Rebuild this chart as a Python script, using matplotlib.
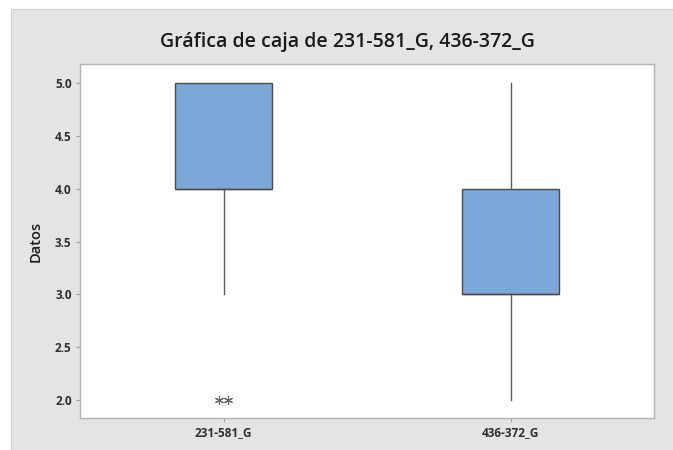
import matplotlib
matplotlib.use("Agg")
import matplotlib.pyplot as plt
from matplotlib.patches import Rectangle

# Summary statistics for each variable
categories = ["231-581_G", "436-372_G"]
q1 = [4.0, 3.0]
medians = [4.0, 3.0]
q3 = [5.0, 4.0]
whisker_low = [3.0, 2.0]
whisker_high = [5.0, 5.0]
outliers = [[2.0, 2.0], []]
y_ticks = [2.0, 2.5, 3.0, 3.5, 4.0, 4.5, 5.0]

plt.rcParams["font.family"] = ["Open Sans", "DejaVu Sans"]

fig = plt.figure(figsize=(6.73, 4.5), dpi=100)
fig.patch.set_facecolor("white")
# grey frame behind the chart
fig.patches.append(Rectangle((11 / 673, -0.01), 1.01 - 11 / 673, 0.01 + 441 / 450,
                             transform=fig.transFigure, facecolor="#E4E4E4",
                             edgecolor="#D0D0D0", linewidth=0.8, zorder=-10))

ax = fig.add_axes([80 / 673, 32 / 450, 574 / 673, 354 / 450])
ax.set_facecolor("white")

stats = []
for i, name in enumerate(categories):
    stats.append(dict(label=name, q1=q1[i], med=medians[i], q3=q3[i],
                      whislo=whisker_low[i], whishi=whisker_high[i], fliers=[]))

positions = list(range(1, len(categories) + 1))
ax.bxp(stats, positions=positions, widths=0.335, patch_artist=True,
       showcaps=False,
       boxprops=dict(facecolor="#7BA7D9", edgecolor="#4A4A4A", linewidth=1.0),
       medianprops=dict(color="#4A4A4A", linewidth=1.0),
       whiskerprops=dict(color="#5A5A5A", linewidth=1.0))

# outliers drawn as asterisks, tied values spread side by side
for pos, vals in zip(positions, outliers):
    n = len(vals)
    for k, v in enumerate(vals):
        dx = (k - (n - 1) / 2) * 0.034
        ax.plot(pos + dx, v, marker=(6, 2, 0), markersize=6.5,
                color="#606060", markeredgewidth=0.8, linestyle="none")

ax.set_xlim(0.5, 2.5)
ax.set_ylim(1.830, 5.18)
ax.set_yticks(y_ticks)
ax.set_yticklabels([f"{t:.1f}" for t in y_ticks])
ax.set_xticks(positions)
ax.set_xticklabels(categories)

for s in ax.spines.values():
    s.set_color("#B4B4B4")
    s.set_linewidth(1.0)
ax.tick_params(axis="both", colors="#A0A0A0", length=3, width=0.8,
               labelcolor="#2E2E2E", labelsize=8.5, pad=3)
for lbl in ax.get_yticklabels() + ax.get_xticklabels():
    lbl.set_fontweight("bold")

ax.set_ylabel("Datos", fontsize=10.5, fontweight="semibold", color="#1A1A1A",
              labelpad=9)

fig.text(347 / 673, 1 - 42 / 450, "Gráfica de caja de 231-581_G, 436-372_G",
         ha="center", va="center", fontsize=14, fontweight="semibold",
         color="#1A1A1A")

fig.savefig("out.png", dpi=100)
